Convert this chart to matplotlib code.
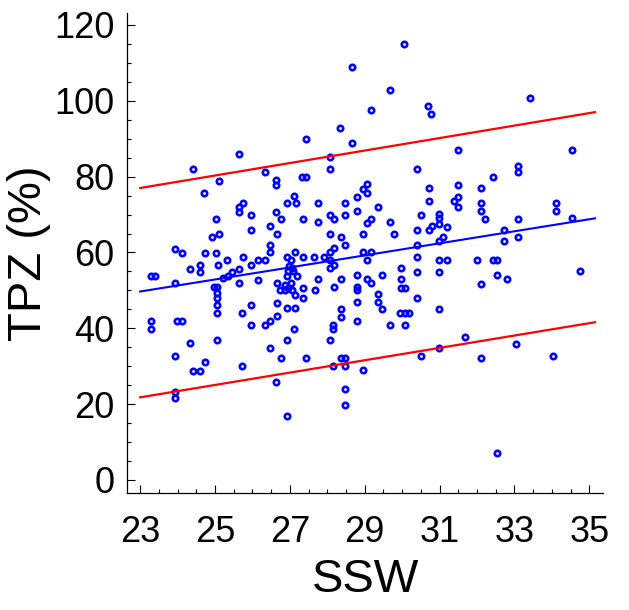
import matplotlib
matplotlib.use("Agg")
import matplotlib.pyplot as plt
from matplotlib.ticker import MultipleLocator

plt.rcParams['font.family'] = ['Liberation Sans', 'DejaVu Sans']

# scatter values (SSW, TPZ %)
ssw = [25.64, 24.42, 26.34, 25.11, 26.64, 26.64, 24.71, 27.12, 26.93, 25.76,
       25.63, 25.64, 26.64, 25.96, 26.75, 25.02, 26.46, 25.96, 25.11, 24.93,
       26.65, 26.46, 23.93, 24.11, 24.72, 25.02, 26.46, 25.74, 26.92, 25.32,
       25.08, 24.59, 24.32, 24.61, 25.96, 26.14, 26.34, 25.64, 25.45, 25.34,
       25.20, 23.29, 23.40, 23.93, 26.14, 26.65, 25.64, 24.96, 25.05,
       27.14, 27.03, 27.36, 27.65, 27.91, 26.98, 27.05, 26.96, 27.09, 26.92,
       27.19, 27.75, 27.03, 26.87, 26.74, 26.87, 26.96, 27.05, 27.36, 27.66,
       27.14, 27.36, 26.65, 26.92, 27.14, 26.65,
       28.07, 28.07, 30.39, 27.33, 27.43, 29.07, 28.96, 29.07, 28.79, 30.71,
       30.71, 27.15, 27.75, 28.46, 29.36, 28.79, 28.07, 28.18, 28.46, 30.50,
       30.99, 30.99, 30.99, 27.36, 27.75, 29.18, 29.07, 29.68, 30.80, 30.71,
       31.21, 30.39, 28.07, 28.96, 29.78, 28.36, 31.10, 30.99, 28.47, 30.39,
       28.18, 28.07, 28.96, 29.18, 29.07, 30.39, 30.99, 31.19, 28.07, 28.18,
       28.07, 29.96, 30.39, 30.99, 28.79, 29.46, 28.36, 29.07, 29.18, 29.96,
       28.18, 28.79, 28.79, 29.96, 30.07,
       31.50, 34.53, 33.10, 33.10, 32.43, 31.50, 32.11, 31.50, 31.39, 31.50,
       32.11, 32.11, 32.21, 34.10, 34.10, 33.10, 34.53, 32.71, 32.71, 33.10,
       32.00, 32.43, 32.54, 34.74, 32.54, 32.80, 32.11,
       25.04, 25.04, 25.04, 25.04, 25.73, 25.95, 25.95, 26.46, 26.34, 27.11,
       23.28, 23.28, 23.99, 24.12, 25.04, 24.33, 26.93, 26.46, 23.93, 26.75,
       24.72, 24.42, 24.61, 25.73, 26.64, 23.93, 23.93, 26.93,
       29.36, 29.36, 29.46, 30.39, 30.99, 28.79, 28.36, 28.36, 28.79, 28.16,
       28.16, 29.94, 30.07, 30.18, 29.68, 30.07, 28.07, 27.42, 28.36, 28.47,
       28.16, 28.47, 28.96, 30.50, 30.99, 28.47, 28.47,
       31.68, 32.11, 33.03, 34.03, 32.54,
       30.06, 28.67, 29.68, 29.17, 30.70, 30.78, 28.35, 27.43, 28.67, 33.42]

tpz = [86.0, 82.1, 81.1, 78.9, 79.2, 77.8, 75.8, 74.9, 73.0, 73.0,
       72.0, 70.6, 70.8, 69.8, 68.9, 68.9, 66.9, 65.9, 64.8, 64.0,
       64.8, 62.0, 60.9, 59.9, 59.9, 59.9, 60.0, 58.8, 58.8, 57.9,
       56.7, 56.7, 55.7, 54.9, 56.7, 57.9, 57.9, 55.7, 54.9, 53.8,
       53.2, 53.8, 53.8, 51.9, 52.8, 51.9, 51.9, 50.8, 50.8,
       60.1, 58.0, 58.7, 58.7, 58.7, 56.3, 55.9, 55.0, 55.1, 53.9,
       53.9, 53.0, 51.9, 51.5, 50.1, 50.1, 50.6, 50.1, 50.7, 50.1,
       48.8, 48.1, 46.8, 45.3, 45.3, 43.2,
       85.1, 82.1, 82.1, 80.0, 80.0, 78.0, 76.7, 75.8, 74.7, 76.9,
       73.6, 73.0, 73.0, 73.0, 72.0, 70.9, 69.9, 68.9, 69.9, 69.8,
       70.2, 69.1, 67.5, 68.9, 68.1, 68.9, 67.9, 68.1, 67.0, 66.0,
       66.8, 66.0, 64.9, 64.9, 64.9, 64.0, 64.0, 63.1, 62.1, 62.1,
       61.2, 60.2, 60.0, 60.0, 57.9, 58.9, 57.9, 57.9, 57.9, 56.8,
       55.8, 55.8, 54.9, 54.9, 54.0, 54.0, 53.1, 53.0, 51.9, 53.0,
       51.0, 51.0, 50.1, 50.7, 50.7,
       86.9, 86.9, 82.9, 81.1, 80.0, 77.9, 76.9, 74.7, 73.7, 72.0,
       73.0, 70.9, 68.9, 73.0, 70.9, 68.9, 69.1, 66.0, 63.1, 64.0,
       57.9, 57.9, 57.9, 55.0, 54.0, 53.0, 51.7,
       49.3, 47.9, 46.2, 44.1, 44.1, 46.2, 40.9, 42.0, 40.9, 39.8,
       42.0, 39.8, 42.0, 42.0, 37.0, 36.0, 37.0, 34.9, 32.8, 32.1,
       31.1, 28.8, 28.8, 30.0, 25.9, 23.1, 21.7, 16.9,
       49.0, 46.9, 45.1, 47.9, 45.1, 46.9, 45.1, 43.0, 42.0, 40.9,
       39.8, 44.1, 44.1, 44.1, 40.9, 40.9, 37.0, 32.1, 32.1, 32.1,
       30.0, 30.0, 28.9, 32.8, 34.9, 23.9, 19.7,
       37.7, 32.1, 35.9, 32.8, 7.0,
       115.0, 108.9, 102.9, 97.6, 98.7, 96.6, 92.7, 89.9, 88.8, 100.7]

# fitted line and the two red limit lines (end values)
line_x = [23.0, 35.15]
fit_y = [49.7, 69.0]
upper_y = [77.0, 97.0]
lower_y = [21.8, 41.6]

x_ticks = [23, 25, 27, 29, 31, 33, 35]
y_ticks = [0, 20, 40, 60, 80, 100, 120]

fig = plt.figure(figsize=(6.29, 6.10), dpi=100)
ax = fig.add_axes([0.202, 0.192, 0.757, 0.787])

ax.plot(ssw, tpz, linestyle='none', marker='o', markersize=3.9,
        markerfacecolor='none', markeredgecolor='#0000ff', markeredgewidth=1.9)
ax.plot(line_x, fit_y, color='#0000ff', linewidth=1.5)
ax.plot(line_x, upper_y, color='#ff0000', linewidth=1.6)
ax.plot(line_x, lower_y, color='#ff0000', linewidth=1.6)

ax.set_xlim(22.65, 35.37)
ax.set_ylim(-3.4, 123.2)
ax.set_xticks(x_ticks)
ax.set_yticks(y_ticks)
ax.xaxis.set_minor_locator(MultipleLocator(0.5))
ax.yaxis.set_minor_locator(MultipleLocator(5))

ax.spines['top'].set_visible(False)
ax.spines['right'].set_visible(False)
for s in ['left', 'bottom']:
    ax.spines[s].set_linewidth(0.9)

ax.tick_params(which='major', direction='in', length=6, width=0.8, labelsize=26)
ax.tick_params(which='minor', direction='in', length=3, width=0.8)
ax.tick_params(axis='x', which='major', pad=16)
ax.tick_params(axis='y', which='major', pad=9)

ax.set_xlabel('SSW', fontsize=34, labelpad=6)
ax.set_ylabel('TPZ (%)', fontsize=34, labelpad=2)

fig.savefig('out.png', dpi=100)
